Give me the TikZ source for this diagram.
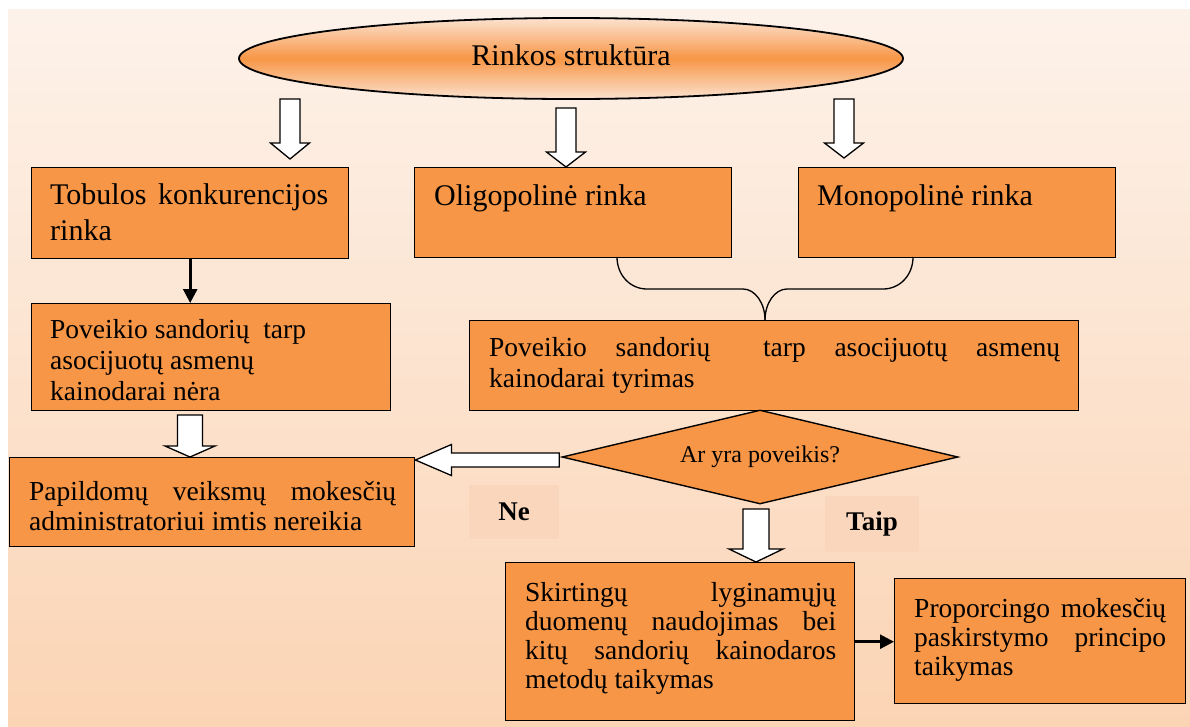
\documentclass[tikz,border=0pt]{standalone}
\usepackage{fontspec}
\setmainfont{Liberation Serif}
\usetikzlibrary{shapes.geometric,calc,arrows.meta}

\definecolor{bgtop}{RGB}{253,242,234}
\definecolor{bgbot}{RGB}{251,212,180}
\definecolor{boxor}{RGB}{247,150,70}
\definecolor{ellite}{RGB}{252,226,208}
\definecolor{lblfill}{RGB}{250,215,188}

% a line stretched to the full width of its box
\newcommand\jl[2]{\hbox to #1{#2}}

% hollow block arrow: start, tip, shaft half-width, head half-width, head length
\newcommand\blockarr[5]{%
  \coordinate (bab) at ($(#2)!#5!(#1)$);
  \draw[hollow] ($(#1)!#3!90:(#2)$) -- ($(bab)!#3!90:(#2)$) -- ($(bab)!#4!90:(#2)$)
    -- (#2) -- ($(bab)!#4!-90:(#2)$) -- ($(bab)!#3!-90:(#2)$) -- ($(#1)!#3!-90:(#2)$) -- cycle;
}

\begin{document}
\begin{tikzpicture}[x=1pt,y=-1pt,
  box/.style={draw=black, line width=1.4pt, fill=boxor, anchor=north west, inner sep=0pt},
  txt/.style={anchor=base west, inner sep=0pt},
  big/.style={font=\fontsize{30}{36}\selectfont},
  mid/.style={font=\fontsize{27.5}{31}\selectfont},
  hollow/.style={draw=black, fill=white, line width=1.3pt, line join=miter},
  lbl/.style={fill=lblfill, inner sep=0pt, font=\fontsize{27}{32}\selectfont\bfseries},
  solidarr/.style={draw=black, line width=2.6pt, -{Triangle[length=14pt,width=14pt]}}]

\useasboundingbox (0,0) rectangle (1190,726);
\fill[white] (0,0) rectangle (1190,726);
% page background
\fill[top color=bgtop, bottom color=bgbot] (8,9) rectangle (1190,726);

% top ellipse
\node[ellipse, draw=black, line width=1.8pt, minimum width=664pt, minimum height=81pt,
      inner sep=0pt, top color=ellite, bottom color=ellite, middle color=boxor] (ell) at (571,58.5) {};
\node[anchor=base, inner sep=0pt, big] (tell) at (571,65) {Rinkos struktūra};

% boxes
\node[box, minimum width=317pt, minimum height=91pt] (bA) at (31,167) {};
\node[box, minimum width=359pt, minimum height=107pt] (bB) at (31,303) {};
\node[box, minimum width=317pt, minimum height=90pt] (bC) at (414,167) {};
\node[box, minimum width=317pt, minimum height=90pt] (bD) at (798,167) {};
\node[box, minimum width=609pt, minimum height=90pt] (bE) at (469,320) {};
\node[box, minimum width=405pt, minimum height=89pt] (bP) at (9,457) {};
\node[box, minimum width=349pt, minimum height=158pt] (bS) at (505,562) {};
\node[box, minimum width=291pt, minimum height=125pt] (bR) at (894,578) {};

% decision
\node[diamond, draw=black, line width=1.4pt, fill=boxor, minimum width=396pt, minimum height=94pt,
      inner sep=0pt, aspect=4.2] (dia) at (760,457) {};
\node[anchor=base, inner sep=0pt, font=\fontsize{24}{28}\selectfont] (tdia) at (760,462) {Ar yra poveikis?};

% box texts
\node[txt, big] (tA) at (50,204) {\vtop{\jl{278pt}{Tobulos konkurencijos}\hbox{rinka}}};
\node[txt, mid] (tB) at (50,338) {\vtop{\hbox{Poveikio sandorių~~tarp}\hbox{asocijuotų asmenų}\hbox{kainodarai nėra}}};
\node[txt, big] (tC) at (434,205) {Oligopolinė rinka};
\node[txt, big] (tD) at (817,205) {Monopolinė rinka};
\node[txt, mid] (tE) at (489,356) {\vtop{\jl{571pt}{Poveikio sandorių\hspace{24pt} tarp asocijuotų asmenų}\hbox{kainodarai tyrimas}}};
\node[txt, mid, font=\fontsize{27.5}{30}\selectfont] (tP) at (29,500) {\vtop{\jl{367pt}{Papildomų veiksmų mokesčių}\hbox{administratoriui imtis nereikia}}};
\node[txt, mid, font=\fontsize{27.5}{29}\selectfont] (tS) at (525,601) {\vtop{\jl{311pt}{Skirtingų lyginamųjų}\jl{311pt}{duomenų naudojimas bei}\jl{311pt}{kitų sandorių kainodaros}\hbox{metodų taikymas}}};
\node[txt, mid, font=\fontsize{27.5}{29}\selectfont] (tR) at (914,617) {\vtop{\jl{252pt}{Proporcingo mokesčių}\jl{252pt}{paskirstymo principo}\hbox{taikymas}}};

% answer labels
\node[lbl, minimum width=90pt, minimum height=54pt] (ne) at (514,512) {Ne};
\node[lbl, minimum width=94pt, minimum height=56pt] (taip) at (872,524) {Taip};

% hollow block arrows
\coordinate (s1) at (290,99);
\coordinate (t1) at ($(s1 |- bA.north)+(0,-8)$);
\blockarr{s1}{t1}{10pt}{19.5pt}{16pt}
\coordinate (s2) at (566,108);
\coordinate (t2) at (s2 |- bC.north);
\blockarr{s2}{t2}{10pt}{19.5pt}{15pt}
\coordinate (s3) at (844,99);
\coordinate (t3) at ($(s3 |- bD.north)+(0,-9)$);
\blockarr{s3}{t3}{10pt}{19.5pt}{15pt}
\coordinate (s4) at (190,415);
\coordinate (t4) at (s4 |- bP.north);
\blockarr{s4}{t4}{12.5pt}{25pt}{11pt}
\coordinate (s5) at ($(dia.west)+(-2,3)$);
\coordinate (t5) at (s5 -| bP.east);
\blockarr{s5}{t5}{7pt}{15.5pt}{36pt}
\coordinate (s6) at (756,509);
\coordinate (t6) at (s6 |- bS.north);
\blockarr{s6}{t6}{13pt}{27pt}{13pt}

% solid arrows
\draw[solidarr] (bA.south) -- (bA.south |- bB.north);
\draw[solidarr] (bS.east) -- (bS.east -| bR.west);

% brace joining the two market boxes into the analysis box
\coordinate (brL) at (617,257);
\coordinate (brR) at (913,257);
\coordinate (brT) at (765,320);
\draw[line width=1.3pt] (brL) .. controls (617,275) and (630,289) .. (647,289) -- (743,289)
  .. controls (755,289) and (765,303) .. (brT);
\draw[line width=1.3pt] (brR) .. controls (913,275) and (900,289) .. (883,289) -- (787,289)
  .. controls (775,289) and (765,303) .. (brT);
\end{tikzpicture}
\end{document}
